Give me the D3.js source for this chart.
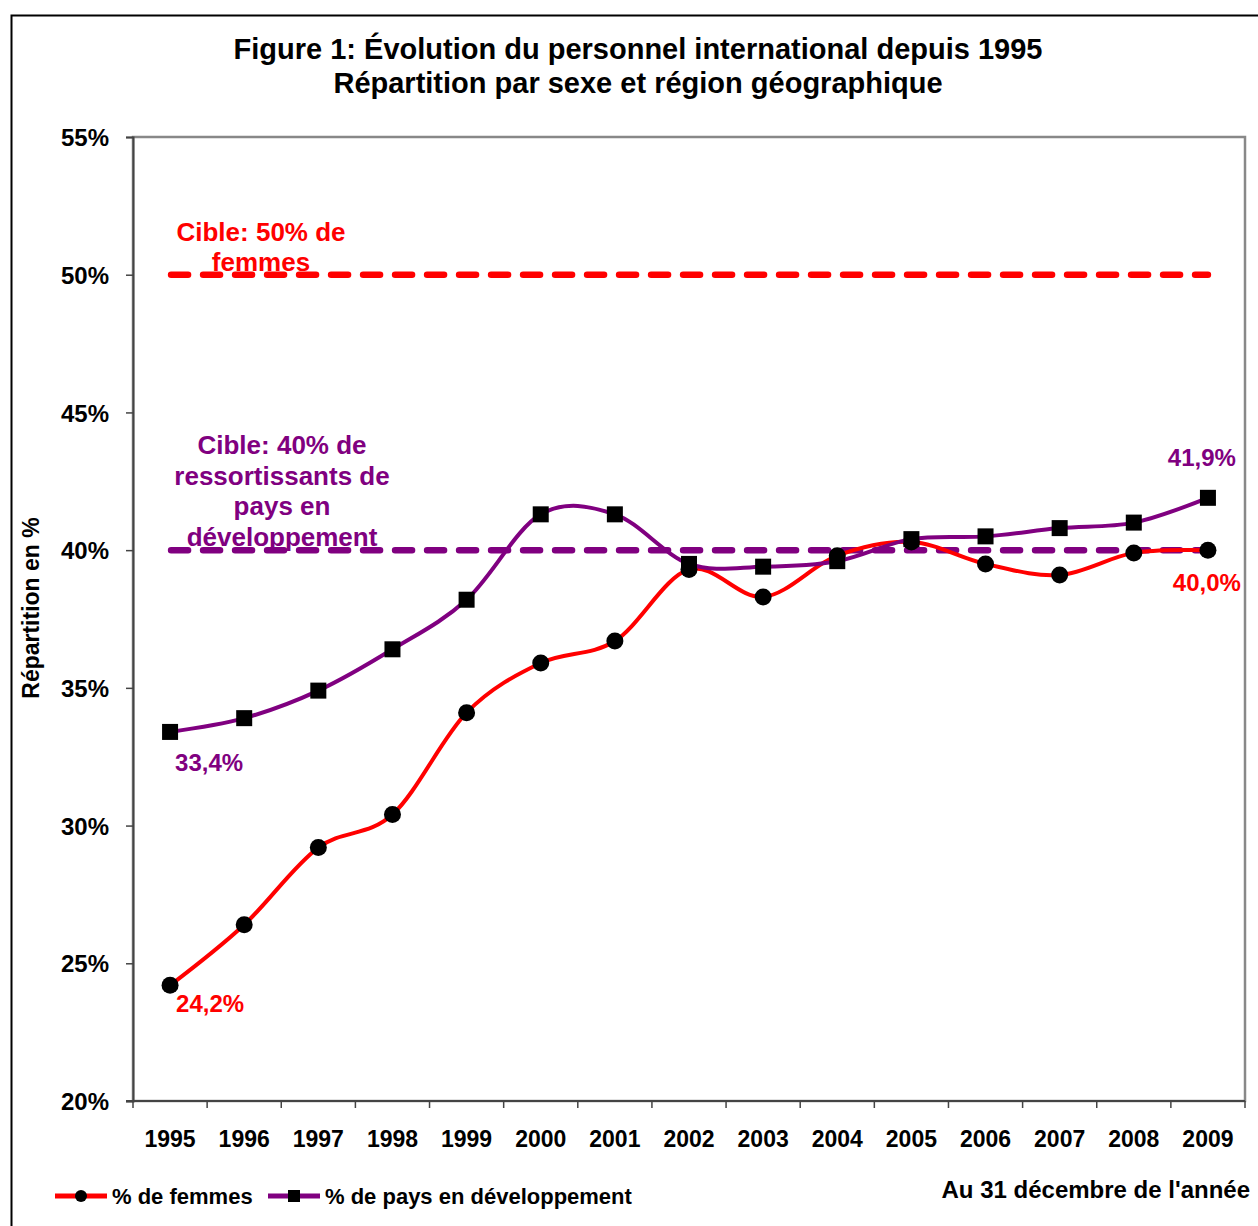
<!DOCTYPE html>
<html>
<head>
<meta charset="utf-8">
<script src="https://cdn.jsdelivr.net/npm/d3@7"></script>
<style>
	body { margin: 0; background: #fff; }
	svg { font-family: "Liberation Sans", Arial, sans-serif; font-weight: bold; }
</style>
</head>
<body>
<div id="chart"></div>
<script>
var years = ["1995", "1996", "1997", "1998", "1999", "2000", "2001", "2002", "2003", "2004", "2005", "2006", "2007", "2008", "2009"];
var femmes = [24.2, 26.4, 29.2, 30.4, 34.1, 35.9, 36.7, 39.3, 38.3, 39.8, 40.3, 39.5, 39.1, 39.9, 40.0];
var pays_dev = [33.4, 33.9, 34.9, 36.4, 38.2, 41.3, 41.3, 39.5, 39.4, 39.6, 40.4, 40.5, 40.8, 41.0, 41.9];
var cible_femmes = 50;
var cible_pays = 40;
var y_ticks = [20, 25, 30, 35, 40, 45, 50, 55];

var red = "#ff0000", purple = "#800080";

var svg = d3.select("#chart").append("svg")
	.attr("width", 1258)
	.attr("height", 1226);

// outer frame (cut off at right and bottom like the source)
svg.append("rect")
	.attr("x", 11.5).attr("y", 15.5)
	.attr("width", 1260).attr("height", 1230)
	.attr("fill", "none").attr("stroke", "#000").attr("stroke-width", 2);

// title
svg.append("text").attr("x", 638).attr("y", 59).attr("text-anchor", "middle")
	.attr("font-size", 29).text("Figure 1: Évolution du personnel international depuis 1995");
svg.append("text").attr("x", 638).attr("y", 93).attr("text-anchor", "middle")
	.attr("font-size", 29).text("Répartition par sexe et région géographique");

var plot = {left: 133, top: 137, right: 1245, bottom: 1101};

var x = d3.scaleBand().domain(years).range([plot.left, plot.right]);
var y = d3.scaleLinear().domain([20, 55]).range([plot.bottom, plot.top]);
function cx(d) { return x(d) + x.bandwidth() / 2; }

// plot area box (grey top/right)
svg.append("rect")
	.attr("x", plot.left).attr("y", plot.top)
	.attr("width", plot.right - plot.left).attr("height", plot.bottom - plot.top)
	.attr("fill", "none").attr("stroke", "#888").attr("stroke-width", 2.5);

// y axis
var yAxis = svg.append("g")
	.attr("transform", "translate(" + plot.left + ",0)")
	.call(d3.axisLeft(y).tickValues(y_ticks).tickSize(7).tickPadding(17)
		.tickFormat(function(d){ return d + "%"; }));
yAxis.select(".domain").attr("stroke", "#444").attr("stroke-width", 2);
yAxis.selectAll(".tick line").attr("stroke", "#444").attr("stroke-width", 1.5);
yAxis.selectAll("text").attr("font-size", 24).attr("font-family", "Liberation Sans, Arial")
	.attr("font-weight", "bold").attr("fill", "#000").attr("dy", "0.36em");

// x axis: ticks between categories
var xAxis = svg.append("g")
	.attr("transform", "translate(0," + plot.bottom + ")");
xAxis.append("line").attr("x1", plot.left - 7).attr("x2", plot.right)
	.attr("stroke", "#444").attr("stroke-width", 2);
xAxis.selectAll("line.tk").data(years.concat(["end"]))
	.enter().append("line").attr("class", "tk")
	.attr("x1", function(d, i){ return d == "end" ? plot.right : x(d); })
	.attr("x2", function(d, i){ return d == "end" ? plot.right : x(d); })
	.attr("y1", 0).attr("y2", 7)
	.attr("stroke", "#444").attr("stroke-width", 1.5);
xAxis.selectAll("text").data(years)
	.enter().append("text")
	.attr("x", cx).attr("y", 46)
	.attr("text-anchor", "middle").attr("font-size", 23)
	.text(function(d){ return d; });

// y axis title
svg.append("text")
	.attr("transform", "translate(39,608) rotate(-90)")
	.attr("text-anchor", "middle").attr("font-size", 23)
	.text("Répartition en %");

// target lines
function targetLine(val, colour) {
	svg.append("line")
		.attr("x1", cx(years[0]) + 1).attr("x2", cx(years[years.length - 1]))
		.attr("y1", y(val)).attr("y2", y(val))
		.attr("stroke", colour).attr("stroke-width", 6.5)
		.attr("stroke-linecap", "round")
		.attr("stroke-dasharray", "17,15");
}
targetLine(cible_femmes, red);
targetLine(cible_pays, purple);

// annotation texts
function multiText(lines, xx, yy, colour, size, lh) {
	var t = svg.append("text").attr("text-anchor", "middle").attr("font-size", size).attr("fill", colour);
	lines.forEach(function(l, i){
		t.append("tspan").attr("x", xx).attr("y", yy + i * lh).text(l);
	});
}
multiText(["Cible: 50% de", "femmes"], 261, 241, red, 26, 30);
multiText(["Cible: 40% de", "ressortissants de", "pays en", "développement"], 282, 454, purple, 26, 30.5);

// series
var line = d3.line()
	.x(function(d, i){ return cx(years[i]); })
	.y(function(d){ return y(d); })
	.curve(d3.curveCardinal.tension(0));

svg.append("path").datum(femmes)
	.attr("d", line).attr("fill", "none")
	.attr("stroke", red).attr("stroke-width", 4);
svg.selectAll("circle.fem").data(femmes)
	.enter().append("circle").attr("class", "fem")
	.attr("cx", function(d, i){ return cx(years[i]); })
	.attr("cy", function(d){ return y(d); })
	.attr("r", 8.5).attr("fill", "#000");

svg.append("path").datum(pays_dev)
	.attr("d", line).attr("fill", "none")
	.attr("stroke", purple).attr("stroke-width", 4);
svg.selectAll("rect.dev").data(pays_dev)
	.enter().append("rect").attr("class", "dev")
	.attr("x", function(d, i){ return cx(years[i]) - 8; })
	.attr("y", function(d){ return y(d) - 8; })
	.attr("width", 16).attr("height", 16).attr("fill", "#000");

// value labels
var n = years.length - 1;
svg.append("text").attr("x", cx(years[0]) + 5).attr("y", y(pays_dev[0]) + 39)
	.attr("font-size", 24).attr("fill", purple).text("33,4%");
svg.append("text").attr("x", cx(years[0]) + 6).attr("y", y(femmes[0]) + 27)
	.attr("font-size", 24).attr("fill", red).text("24,2%");
svg.append("text").attr("x", cx(years[n]) + 28).attr("y", y(pays_dev[n]) - 32)
	.attr("text-anchor", "end").attr("font-size", 24).attr("fill", purple).text("41,9%");
svg.append("text").attr("x", cx(years[n]) + 33).attr("y", y(femmes[n]) + 41)
	.attr("text-anchor", "end").attr("font-size", 24).attr("fill", red).text("40,0%");

// legend
var legend = [
	{label: "% de femmes", colour: red, shape: "circle", x: 55},
	{label: "% de pays en développement", colour: purple, shape: "rect", x: 268}
];
legend.forEach(function(l){
	var g = svg.append("g").attr("transform", "translate(" + l.x + ",1196)");
	g.append("line").attr("x1", 0).attr("x2", 52).attr("y1", 0).attr("y2", 0)
		.attr("stroke", l.colour).attr("stroke-width", 5);
	if (l.shape == "circle")
		g.append("circle").attr("cx", 26).attr("cy", 0).attr("r", 6).attr("fill", "#000");
	else
		g.append("rect").attr("x", 20).attr("y", -6).attr("width", 12).attr("height", 12).attr("fill", "#000");
	g.append("text").attr("x", 57).attr("y", 8).attr("font-size", 22).text(l.label);
});

svg.append("text").attr("x", 1250).attr("y", 1198).attr("text-anchor", "end")
	.attr("font-size", 24).text("Au 31 décembre de l'année");
</script>
</body>
</html>
